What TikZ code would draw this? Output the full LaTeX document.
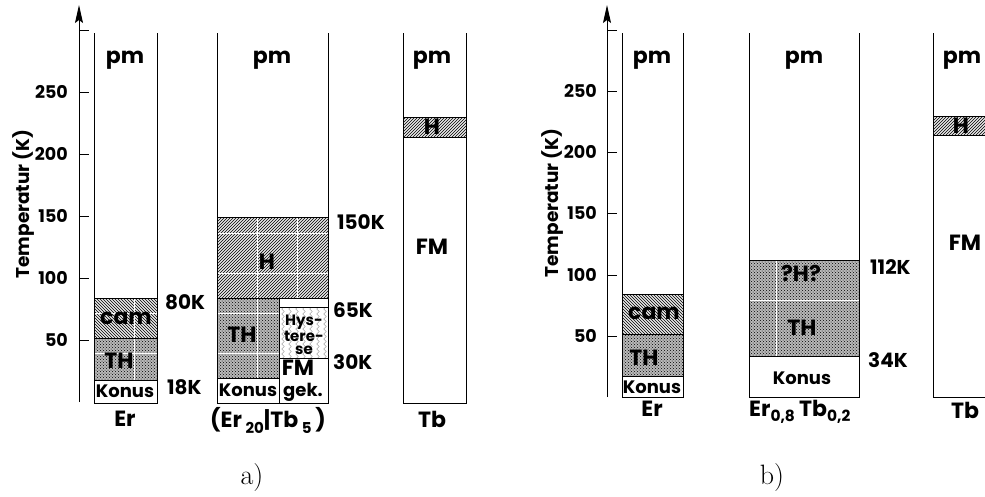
\documentclass[tikz,border=0pt]{standalone}
\usepackage{fontspec}
\newfontfamily\pop{Poppins}
\usetikzlibrary{patterns,arrows.meta,decorations.pathmorphing}
\newcommand{\lowsub}[1]{\raisebox{-6pt}{\fontsize{15}{15}\selectfont #1}}
\tikzset{
  frame/.style={draw=black, line width=0.9pt},
  axisln/.style={draw=black, line width=1pt},
  tile/.style={draw=white, line width=0.8pt},
  camfill/.style={preaction={fill=gray!18}, pattern=north west lines},
  hfill/.style={preaction={fill=gray!18}, pattern=north east lines},
  thfill/.style={preaction={fill=gray!55}, pattern=crosshatch dots},
  wave/.style={draw=gray!70, line width=0.5pt, decorate, decoration={snake, amplitude=1.3pt, segment length=5pt}},
  lbl/.style={font=\pop\bfseries\fontsize{22}{24}\selectfont, inner sep=0pt},
  slbl/.style={font=\pop\bfseries\fontsize{18}{20}\selectfont, inner sep=0pt},
  tlbl/.style={font=\pop\bfseries\fontsize{17.5}{19}\selectfont, inner sep=0pt, anchor=east},
  klbl/.style={font=\pop\bfseries\fontsize{20}{22}\selectfont, inner sep=0pt, anchor=west},
  ylbl/.style={font=\pop\bfseries\fontsize{18.5}{20}\selectfont, inner sep=0pt, rotate=90},
  captext/.style={font=\fontsize{28}{30}\selectfont, inner sep=0pt},
  arr/.style={-{Stealth[length=18pt,width=8pt,inset=3pt]}}
}
\begin{document}
\begin{tikzpicture}[x=1pt,y=-1pt]
\useasboundingbox (0,0) rectangle (985,496);
\clip (0,0) rectangle (985,496);

% ================= panel a =================
\coordinate (aA0) at (79,402);
\coordinate (aAtop) at (79,5);
\draw[axisln, arr] (aA0) -- (aAtop);
\draw[axisln] (79,30) -- (89,30);
\foreach \t/\yy in {50/340,100/278,150/216,200/154,250/92}{
  \draw[axisln] (79,\yy) -- (89,\yy);
  \node[tlbl] (tA\t) at (68,\yy) {\t};
}
\node[ylbl] (ylabA) at (24,204) {Temperatur (K)};

% Er column
\fill[camfill] (94,298) rectangle (157,338);
\fill[thfill] (94,338) rectangle (157,380);
\draw[tile] (134,298) -- (134,380);
\draw[tile] (94,313) -- (157,313);
\draw[tile] (94,353) -- (157,353);
\draw[frame] (94,33) -- (94,403) -- (157,403) -- (157,33);
\draw[frame] (94,298) -- (157,298) (94,338) -- (157,338) (94,380) -- (157,380);
\node[lbl] (erPm) at (125,60) {pm};
\node[lbl] (erCam) at (126,318) {cam};
\node[lbl] (erTH) at (119,361) {TH};
\node[slbl] (erKon) at (125,391) {Konus};
\node[klbl] (k80) at (165,302) {80K};
\node[klbl] (k18) at (167,387) {18K};
\node[lbl] (labEr) at (125,419) {Er};

% (Er20|Tb5) column
\fill[hfill] (217,217) rectangle (328,298);
\fill[thfill] (217,298) rectangle (279,378);
\begin{scope}
  \clip (279,307) rectangle (328,358);
  \foreach \xx in {283,290,...,328}{ \draw[wave] (\xx,300) -- (\xx,365); }
\end{scope}
\draw[tile] (257,217) -- (257,378);
\draw[tile] (297,217) -- (297,298);
\draw[tile] (217,233) -- (328,233) (217,273) -- (328,273);
\draw[tile] (217,313) -- (279,313) (217,353) -- (279,353);
\draw[frame] (217,33) -- (217,403) -- (328,403) -- (328,33);
\draw[frame] (217,217) -- (328,217) (217,298) -- (328,298) (279,298) -- (279,403)
             (217,378) -- (279,378) (279,307) -- (328,307) (279,358) -- (328,358);
\node[lbl] (mPm) at (272,60) {pm};
\node[lbl] (mH) at (267,262) {H};
\node[lbl] (mTH) at (242,335) {TH};
\node[slbl] (mKon) at (248,390) {Konus};
\node[font=\pop\bfseries\fontsize{15}{13.5}\selectfont, inner sep=0pt, align=center] (mHys) at (304,335) {Hys-\\tere-\\se};
\node[lbl] (mFM) at (298,368) {FM};
\node[slbl] (mGek) at (303,392) {gek.};
\node[klbl] (k150) at (337,222) {150K};
\node[klbl] (k65) at (333,310) {65K};
\node[klbl] (k30) at (333,362) {30K};
\node[lbl, anchor=base] (labMid) at (268,427) {(Er\,\lowsub{20}|Tb\,\lowsub{5}\,)};

% Tb column
\fill[hfill] (403,117) rectangle (466,137);
\draw[frame] (403,33) -- (403,403) -- (466,403) -- (466,33);
\draw[frame] (403,117) -- (466,117) (403,137) -- (466,137);
\node[lbl] (tbPm) at (432,60) {pm};
\node[lbl] (tbH) at (432,127) {H};
\node[lbl] (tbFM) at (432,247) {FM};
\node[lbl] (labTb) at (432,419) {Tb};

\node[captext] (capA) at (252,478) {a)};

% ================= panel b =================
\coordinate (bA0) at (607,397);
\coordinate (bAtop) at (607,5);
\draw[axisln, arr] (bA0) -- (bAtop);
\draw[axisln] (607,30) -- (617,30);
\foreach \t/\yy in {50/336,100/275,150/213,200/152,250/91}{
  \draw[axisln] (607,\yy) -- (617,\yy);
  \node[tlbl] (tB\t) at (597,\yy) {\t};
}
\node[ylbl] (ylabB) at (553,203) {Temperatur (K)};

% Er column b
\fill[camfill] (622,294) rectangle (683,334);
\fill[thfill] (622,334) rectangle (683,376);
\draw[frame] (622,33) -- (622,397) -- (683,397) -- (683,33);
\draw[frame] (622,294) -- (683,294) (622,334) -- (683,334) (622,376) -- (683,376);
\node[lbl] (berPm) at (652,60) {pm};
\node[lbl] (berCam) at (654,313) {cam};
\node[lbl] (berTH) at (644,358) {TH};
\node[slbl] (berKon) at (652,387) {Konus};
\node[lbl] (blabEr) at (652,409) {Er};

% Er0.8Tb0.2 column
\fill[thfill] (749,260) rectangle (859,356);
\draw[tile] (776,260) -- (776,356);
\draw[tile] (749,300) -- (859,300);
\draw[frame] (749,33) -- (749,397) -- (859,397) -- (859,33);
\draw[frame] (749,260) -- (859,260) (749,356) -- (859,356);
\node[lbl] (bmPm) at (804,60) {pm};
\node[lbl] (bmHq) at (801,273) {?H?};
\node[lbl] (bmTH) at (802,328) {TH};
\node[slbl] (bmKon) at (802,378) {Konus};
\node[klbl] (k112) at (870,267) {112K};
\node[klbl] (k34) at (868,360) {34K};
\node[lbl] (blabMid) at (800,412) {Er\textsubscript{0,8}\,Tb\textsubscript{0,2}};

% Tb column b
\fill[hfill] (933,116) rectangle (995,135);
\draw[frame] (995,397) -- (933,397) -- (933,33);
\draw[frame] (933,116) -- (995,116) (933,135) -- (995,135);
\node[lbl] (btbPm) at (962,60) {pm};
\node[lbl] (btbH) at (961,126) {H};
\node[lbl] (btbFM) at (965,243) {FM};
\node[lbl] (blabTb) at (965,410) {Tb};

\node[captext] (capB) at (772,478) {b)};
\end{tikzpicture}
\end{document}
